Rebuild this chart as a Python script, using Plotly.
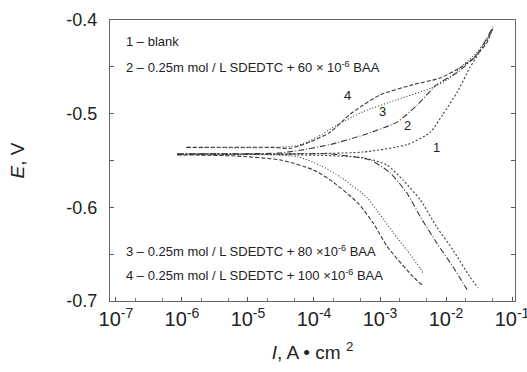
import numpy as np
import plotly.graph_objects as go

# log10(I / A cm^-2) and E (V)
c1_an_logi = [-6.07, -4.43, -3.26, -2.59, -2.24, -2.05, -1.83, -1.64, -1.49, -1.33, -1.29]
c1_an_e = [-0.543, -0.543, -0.541, -0.533, -0.520, -0.501, -0.477, -0.451, -0.434, -0.416, -0.409]
c1_ca_logi = [-6.07, -4.23, -3.25, -2.89, -2.65, -2.39, -2.14, -1.89, -1.64, -1.515]
c1_ca_e = [-0.543, -0.544, -0.547, -0.555, -0.571, -0.592, -0.621, -0.646, -0.674, -0.686]

c2_an_logi = [-6.07, -4.53, -4.20, -3.76, -3.26, -2.74, -2.44, -2.14, -1.83, -1.53, -1.38, -1.30]
c2_an_e = [-0.543, -0.542, -0.539, -0.533, -0.523, -0.509, -0.491, -0.469, -0.456, -0.437, -0.419, -0.409]
c2_ca_logi = [-6.07, -4.43, -3.76, -3.15, -2.85, -2.59, -2.39, -2.14, -1.89, -1.68]
c2_ca_e = [-0.543, -0.543, -0.543, -0.5495, -0.563, -0.585, -0.610, -0.638, -0.664, -0.688]

c3_an_logi = [-5.93, -4.63, -4.25, -3.95, -3.65, -3.26, -2.74, -2.24, -1.94, -1.74, -1.55, -1.40, -1.29]
c3_an_e = [-0.536, -0.536, -0.534, -0.525, -0.512, -0.498, -0.485, -0.473, -0.462, -0.448, -0.436, -0.422, -0.408]
c3_ca_logi = [-6.07, -4.63, -4.25, -3.91, -3.59, -3.19, -3.05, -2.80, -2.59, -2.39, -2.35]
c3_ca_e = [-0.544, -0.544, -0.546, -0.555, -0.568, -0.590, -0.603, -0.627, -0.646, -0.665, -0.670]

c4_an_logi = [-5.93, -4.63, -4.36, -4.05, -3.76, -3.46, -3.26, -3.00, -2.50, -2.09, -1.79, -1.59, -1.38, -1.29]
c4_an_e = [-0.536, -0.536, -0.537, -0.530, -0.520, -0.501, -0.491, -0.480, -0.469, -0.462, -0.451, -0.441, -0.424, -0.407]
c4_ca_logi = [-6.07, -5.25, -4.50, -4.01, -3.75, -3.34, -3.10, -2.89, -2.50, -2.36]
c4_ca_e = [-0.544, -0.545, -0.5495, -0.560, -0.571, -0.595, -0.617, -0.642, -0.674, -0.683]

curve_ids = ["1", "2", "3", "4"]
curve_label_logi = [-2.14, -2.59, -2.955, -3.485]
curve_label_e = [-0.5356, -0.5121, -0.4972, -0.4811]

legend_texts = [
    "1 – blank",
    "2 – 0.25m mol / L SDEDTC + 60 × 10<sup>-6</sup> BAA",
    "3 – 0.25m mol / L SDEDTC + 80 ×10<sup>-6</sup> BAA",
    "4 – 0.25m mol / L SDEDTC + 100 ×10<sup>-6</sup> BAA",
]

x_tick_exps = [-7, -6, -5, -4, -3, -2, -1]
y_tick_vals = [-0.7, -0.65, -0.6, -0.55, -0.5, -0.45, -0.4]
y_tick_text = ["-0.7", "", "-0.6", "", "-0.5", "", "-0.4"]

FONT = "Liberation Sans, Arial, sans-serif"
LC = "#3a3a3a"

series = [
    (c1_an_logi, c1_an_e, c1_ca_logi, c1_ca_e, "2px,2px"),
    (c2_an_logi, c2_an_e, c2_ca_logi, c2_ca_e, "6px,2px,1px,2px"),
    (c3_an_logi, c3_an_e, c3_ca_logi, c3_ca_e, "1px,2px"),
    (c4_an_logi, c4_an_e, c4_ca_logi, c4_ca_e, "4px,2px"),
]

fig = go.Figure()
for (al, ae, cl, ce, dash), cid in zip(series, curve_ids):
    for lx, ly in ((al, ae), (cl, ce)):
        fig.add_trace(go.Scatter(
            x=10 ** np.array(lx), y=ly, mode="lines",
            line=dict(color=LC, width=1.1, dash=dash, shape="spline", smoothing=0.6),
            showlegend=False, hoverinfo="skip", name=cid))

for cid, lx, ly in zip(curve_ids, curve_label_logi, curve_label_e):
    fig.add_annotation(x=lx, y=ly, xref="x", yref="y", text=cid, showarrow=False,
                       font=dict(family=FONT, size=13, color="#222"))

legend_y = [0.922, 0.833, 0.178, 0.0925]
for t, yy in zip(legend_texts, legend_y):
    fig.add_annotation(x=0.034, y=yy, xref="paper", yref="paper", text=t,
                       showarrow=False, xanchor="left", yanchor="middle",
                       font=dict(family=FONT, size=13, color="#222"))

fig.update_xaxes(
    type="log", range=[-7.09, -0.955], automargin=False,
    tickvals=[10.0 ** e for e in x_tick_exps],
    ticktext=[f"10<sup>{e}</sup>" for e in x_tick_exps],
    ticks="inside", ticklen=4, tickcolor="#555",
    minor=dict(ticks="inside", ticklen=3, tickcolor="#777", showgrid=False),
    showline=True, linecolor="#666", linewidth=1, mirror=True,
    showgrid=False, zeroline=False,
    tickfont=dict(family=FONT, size=20, color="#222"),
    ticklabeloverflow="allow",
    title=dict(text="<i>I</i>, A • cm <sup>2</sup>", font=dict(family=FONT, size=19, color="#222"), standoff=16),
)
fig.update_yaxes(
    range=[-0.7, -0.4], automargin=False,
    tickvals=y_tick_vals, ticktext=y_tick_text,
    ticks="inside", ticklen=4, tickcolor="#555",
    showline=True, linecolor="#666", linewidth=1, mirror="ticks",
    showgrid=False, zeroline=False,
    tickfont=dict(family=FONT, size=18, color="#222"),
    ticklabelstandoff=8,
    title=dict(text="<i>E</i>, V", font=dict(family=FONT, size=19, color="#222"), standoff=36),
)
fig.update_layout(
    width=527, height=372,
    margin=dict(l=110, r=12, t=20, b=71),
    paper_bgcolor="white", plot_bgcolor="white",
    showlegend=False,
)
fig.write_html("out.html")
